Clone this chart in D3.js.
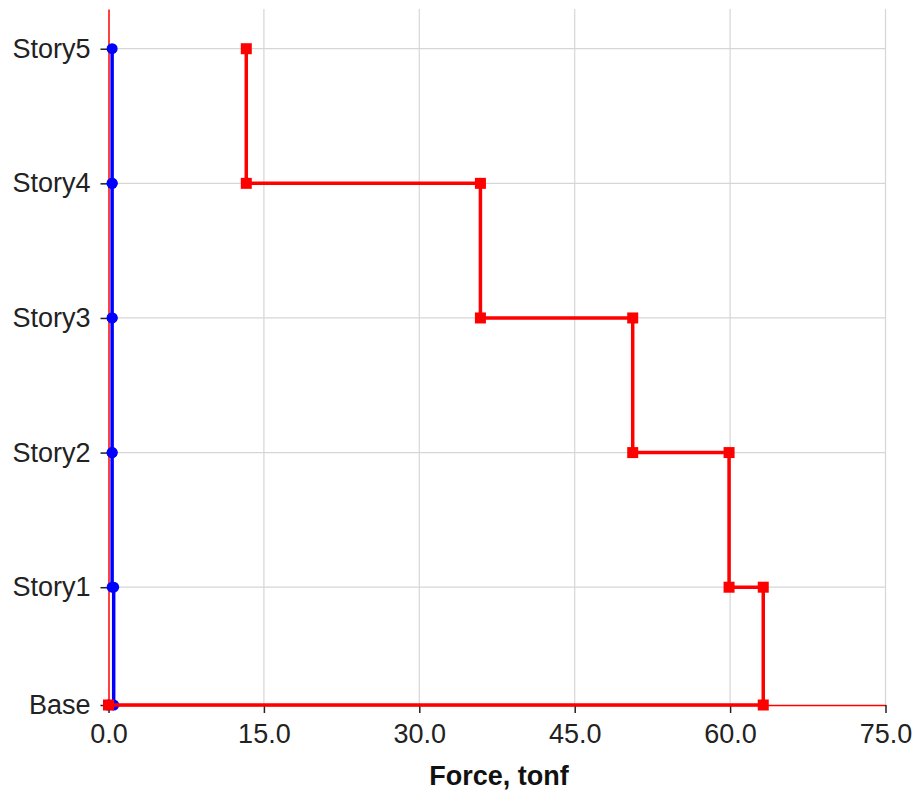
<!DOCTYPE html>
<html><head><meta charset="utf-8">
<script src="https://cdn.jsdelivr.net/npm/d3@7"></script>
<style>body{margin:0;background:#fff}svg{display:block}</style>
</head><body>
<svg id="c" width="914" height="792"></svg>
<script>
const stories = ["Base","Story1","Story2","Story3","Story4","Story5"];
const elevations = [0, 3.5, 7.5, 11.5, 15.5, 19.5];
const xTicks = [0, 15, 30, 45, 60, 75];
// story shear per story (Story1..Story5)
const shearX = [63.2, 59.9, 50.6, 35.9, 13.3];
const shearY = [0.5, 0.35, 0.35, 0.35, 0.35];
const xLabel = "Force, tonf";

const svg = d3.select("#c");
const L = 108.5, R = 885.5, T = 9, B = 705;
const x = d3.scaleLinear().domain([0, 75]).range([L, R]);
const y = d3.scaleLinear().domain([0, 20.68]).range([B, T]);
const font = "Liberation Sans, Arial, sans-serif";

function stepPoints(vals){
  const pts = [];
  for (let i = vals.length - 1; i >= 0; i--) {
    pts.push([vals[i], elevations[i+1]]);
    pts.push([vals[i], elevations[i]]);
  }
  pts.push([0, elevations[0]]);
  return pts;
}

// grid
svg.append("g").selectAll("line").data(xTicks.slice(1)).join("line")
  .attr("x1", d=>x(d)).attr("x2", d=>x(d)).attr("y1", T).attr("y2", B)
  .attr("stroke", "#d6d6d6").attr("stroke-width", 1.2);
svg.append("g").selectAll("line").data(elevations.slice(1)).join("line")
  .attr("x1", L).attr("x2", R).attr("y1", d=>y(d)).attr("y2", d=>y(d))
  .attr("stroke", "#d6d6d6").attr("stroke-width", 1.2);

// axes
const xAxis = svg.append("g").attr("transform", `translate(0,${B})`)
  .call(d3.axisBottom(x).tickValues(xTicks).tickFormat(d3.format(".1f")).tickSize(8).tickPadding(11).tickSizeOuter(0));
const yAxis = svg.append("g").attr("transform", `translate(${L},0)`)
  .call(d3.axisLeft(y).tickValues(elevations).tickFormat((d,i)=>stories[i]).tickSize(8).tickPadding(10).tickSizeOuter(0));
[xAxis, yAxis].forEach(a=>{
  a.select(".domain").attr("stroke", "#ff0000").attr("stroke-width", 1.5);
  a.selectAll(".tick line").attr("stroke", "#222").attr("stroke-width", 1.5);
  a.selectAll("text").attr("fill", "#222").style("font-family", font).style("font-size", "27px");
});

const line = d3.line().x(d=>x(d[0])).y(d=>y(d[1]));

// blue series
const bp = stepPoints(shearY);
svg.append("path").datum(bp).attr("d", line).attr("fill","none")
  .attr("stroke","#0000ff").attr("stroke-width",3.5);
svg.append("g").selectAll("circle").data(bp).join("circle")
  .attr("cx", d=>x(d[0])).attr("cy", d=>y(d[1])).attr("r", 5.5).attr("fill","#0000ff");

// red series
const rp = stepPoints(shearX);
svg.append("path").datum(rp).attr("d", line).attr("fill","none")
  .attr("stroke","#ff0000").attr("stroke-width",3.5);
svg.append("g").selectAll("rect").data(rp).join("rect")
  .attr("x", d=>x(d[0])-5.5).attr("y", d=>y(d[1])-5.5).attr("width",11).attr("height",11).attr("fill","#ff0000");

svg.append("text").attr("x", (L+R)/2 + 2).attr("y", 785).attr("text-anchor","middle")
  .style("font-family", font).style("font-size","27px").style("font-weight","bold").attr("fill","#111")
  .text(xLabel);
</script>
</body></html>
